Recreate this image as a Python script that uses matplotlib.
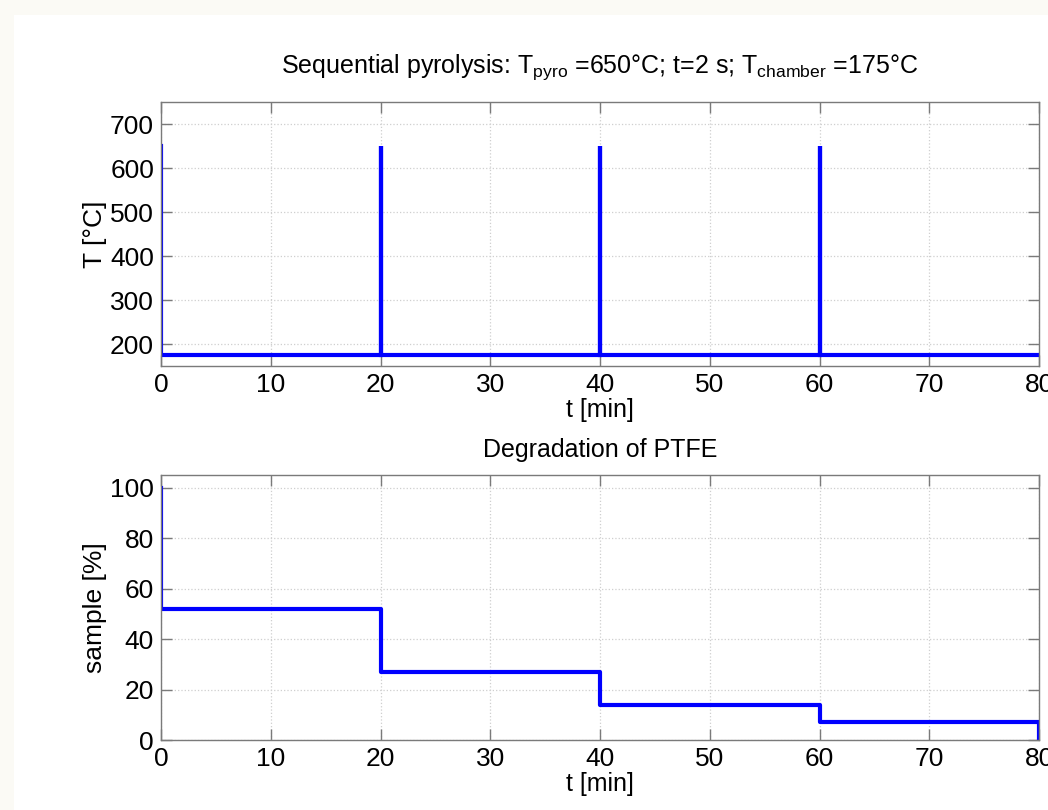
import numpy as np
import matplotlib
matplotlib.use("Agg")
import matplotlib.pyplot as plt
from matplotlib.patches import Rectangle

plt.rcParams['font.family'] = ['Liberation Sans', 'DejaVu Sans']
plt.rcParams['mathtext.default'] = 'regular'

# temperature program: spikes to T_pyro for 2 s, otherwise chamber temperature
spike_starts = [0, 20, 40, 60]      # min
spike_width = 2 / 60.0              # 2 s in min
T_pyro = 650
T_chamber = 175
t_end = 80

# remaining sample after each pyrolysis step
step_times = [0, 0.033, 20.033, 40.033, 60.033, 80]
sample_levels = [100, 52, 27, 14, 7, 0]

# build temperature trace
t_T = [0]
T = [T_pyro]
for s in spike_starts:
    t_T += [s, s, s + spike_width, s + spike_width]
    T += [T_chamber, T_pyro, T_pyro, T_chamber]
t_T = t_T[1:] + [t_end]
T = [T_pyro] + T[2:] + [T_chamber]

line_color = '#0000ff'
spine_color = '#7a7a7a'

fig = plt.figure(figsize=(10.48, 8.10), dpi=100, facecolor='#fbfaf5')
fig.patches.append(Rectangle((14 / 1048, 0), 1, 1 - 15 / 810, transform=fig.transFigure,
                             facecolor='white', edgecolor='none', zorder=-10))

ax1 = fig.add_axes([161 / 1048, 1 - 366 / 810, 878 / 1048, 264 / 810])
ax2 = fig.add_axes([161 / 1048, 1 - 740 / 810, 878 / 1048, 265 / 810])


def style(ax):
    for sp in ax.spines.values():
        sp.set_color(spine_color)
        sp.set_linewidth(1.0)
    ax.tick_params(direction='in', length=8, width=1.0, color=spine_color,
                   labelsize=19, labelcolor='black', top=True, right=True, pad=5)
    ax.grid(True, linestyle=':', color='#cfcfcf', linewidth=0.9)
    ax.set_axisbelow(True)
    ax.set_facecolor('white')
    ax.yaxis.set_label_coords(-0.062, 0.5)


ax1.plot(t_T, T, color=line_color, linewidth=3.0, solid_joinstyle='miter')
ax1.set_xlim(0, 80)
ax1.set_ylim(150, 750)
ax1.set_xticks(np.arange(0, 81, 10))
ax1.set_yticks(np.arange(200, 701, 100))
style(ax1)
ax1.set_xlabel('t [min]', fontsize=18, labelpad=1)
ax1.set_ylabel('T [°C]', fontsize=19)
ax1.set_title('Sequential pyrolysis: T$_{pyro}$ =650°C; t=2 s; T$_{chamber}$ =175°C',
              fontsize=18, pad=21)

ax2.plot(step_times, sample_levels, color=line_color, linewidth=3.0,
         drawstyle='steps-post')
ax2.set_xlim(0, 80)
ax2.set_ylim(0, 105)
ax2.set_xticks(np.arange(0, 81, 10))
ax2.set_yticks(np.arange(0, 101, 20))
style(ax2)
ax2.set_xlabel('t [min]', fontsize=18, labelpad=1)
ax2.set_ylabel('sample [%]', fontsize=19)
ax2.set_title('Degradation of PTFE', fontsize=18, pad=13)

fig.savefig('out.png', dpi=100, facecolor=fig.get_facecolor())
